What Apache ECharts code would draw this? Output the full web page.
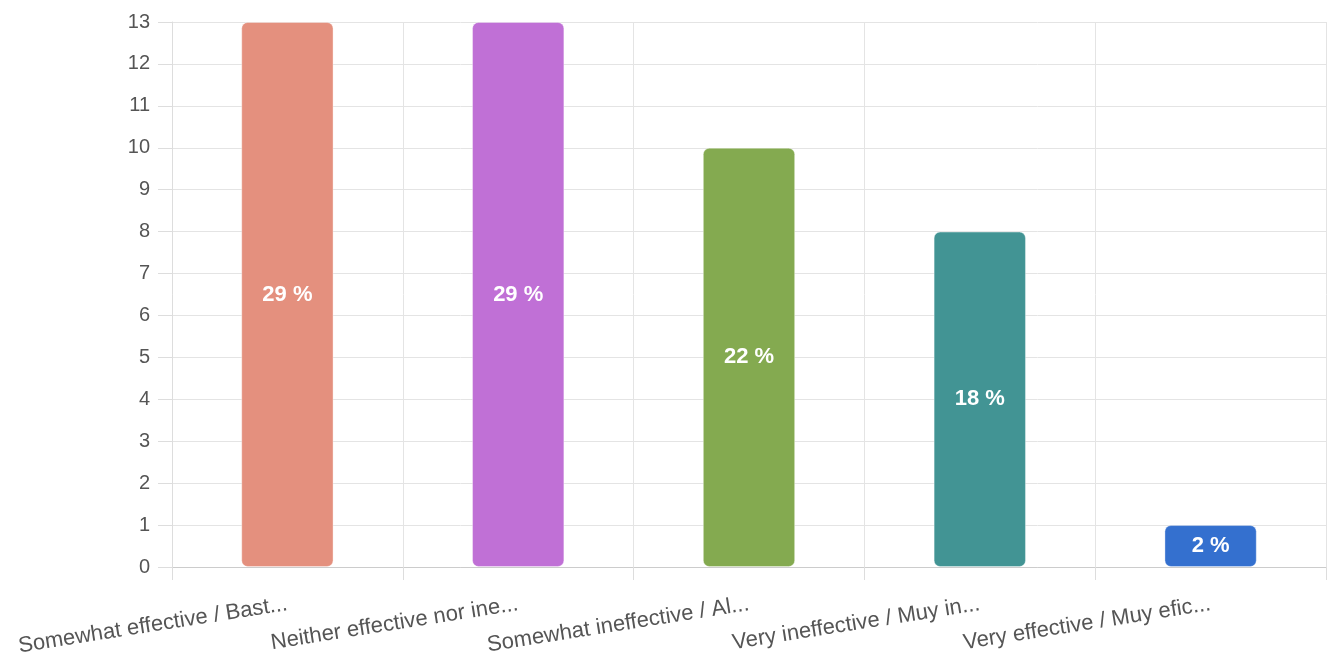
<!DOCTYPE html>
<html>
<head>
<meta charset="utf-8">
<script src="https://cdn.jsdelivr.net/npm/echarts@6/dist/echarts.min.js"></script>
<style>
  html, body { margin: 0; padding: 0; background: #fff; }
  #chart { width: 1327px; height: 661px; }
</style>
</head>
<body>
<div id="chart"></div>
<script>
// data
const categories = [
  'Somewhat effective / Bast...',
  'Neither effective nor ine...',
  'Somewhat ineffective / Al...',
  'Very ineffective / Muy in...',
  'Very effective / Muy efic...'
];
const counts = [13, 13, 10, 8, 1];
const barColors = ['#E4907E', '#C070D6', '#84AA50', '#429494', '#3470CF'];

const total = counts.reduce((a, b) => a + b, 0);

const chart = echarts.init(document.getElementById('chart'), null, { renderer: 'canvas' });

chart.setOption({
  animation: false,
  textStyle: { fontFamily: 'Liberation Sans, Arial, sans-serif' },
  grid: { left: 172, right: 1, top: 22, bottom: 94, containLabel: false },
  xAxis: {
    type: 'category',
    data: categories,
    boundaryGap: true,
    axisLine: { lineStyle: { color: '#cccccc' } },
    axisTick: { show: true, length: 13, lineStyle: { color: '#dddddd' } },
    splitLine: { show: true, lineStyle: { color: '#e4e4e4' } },
    axisLabel: {
      interval: 0,
      rotate: 9,
      color: '#555',
      fontSize: 22,
      margin: 37
    }
  },
  yAxis: {
    type: 'value',
    min: 0,
    max: 13,
    interval: 1,
    axisLine: { show: true, lineStyle: { color: '#dddddd' } },
    axisTick: { show: true, length: 14, lineStyle: { color: '#dddddd' } },
    splitLine: { show: true, lineStyle: { color: '#e4e4e4' } },
    axisLabel: { color: '#555', fontSize: 20, margin: 22 }
  },
  series: [{
    type: 'bar',
    barWidth: '40%',
    data: counts.map((v, i) => ({
      value: v,
      itemStyle: { color: barColors[i] }
    })),
    itemStyle: { borderRadius: 6, borderColor: 'rgba(255,255,255,0.35)', borderWidth: 1 },
    label: {
      show: true,
      position: 'inside',
      color: '#fff',
      fontSize: 22,
      fontWeight: 'bold',
      formatter: p => Math.round(p.value / total * 100) + ' %'
    }
  }]
});
</script>
</body>
</html>
